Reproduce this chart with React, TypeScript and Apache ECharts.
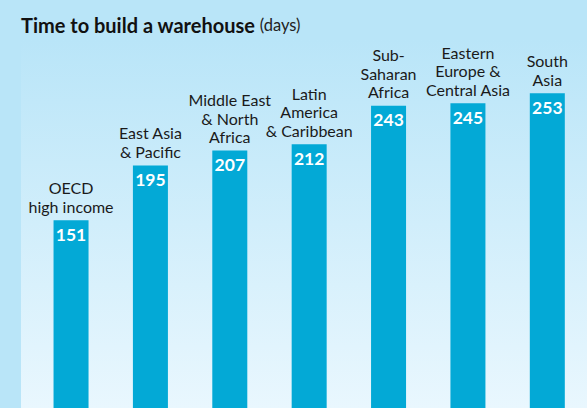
import React, { useEffect, useRef } from "react";
import * as echarts from "echarts";

const categories = [
  "OECD\nhigh income",
  "East Asia\n& Pacific",
  "Middle East\n& North\nAfrica",
  "Latin\nAmerica\n& Caribbean",
  "Sub-\nSaharan\nAfrica",
  "Eastern\nEurope &\nCentral Asia",
  "South\nAsia",
];
const days = [151, 195, 207, 212, 243, 245, 253];
const titleMain = "Time to build a warehouse";
const titleUnit = "(days)";

const FONT = "Lato, 'Open Sans', sans-serif";

export default function App() {
  const ref = useRef<HTMLDivElement>(null);
  useEffect(() => {
    document.body.style.margin = "0";
    const chart = echarts.init(ref.current!, null, { renderer: "svg" });
    chart.setOption({
      animation: false,
      backgroundColor: "#b9e5f8",
      textStyle: { fontFamily: FONT },
      graphic: [
        {
          type: "rect",
          z: -10,
          silent: true,
          shape: { x: 21, y: 40, width: 566, height: 368 },
          style: {
            fill: new echarts.graphic.LinearGradient(0, 0, 0, 1, [
              { offset: 0, color: "#b9e5f8" },
              { offset: 1, color: "#e9f7fe" },
            ]),
          },
        },
      ],
      title: {
        left: 16,
        top: 10,
        text: `{b|${titleMain}} {n|${titleUnit}}`,
        textStyle: {
          rich: {
            b: { fontFamily: FONT, fontWeight: "bold", fontSize: 20, color: "#111111" },
            n: { fontFamily: FONT, fontWeight: "normal", fontSize: 16.5, color: "#222222" },
          },
        },
      },
      grid: { left: 31.35, top: 34.8, width: 562.2, height: 383.4 },
      xAxis: {
        type: "category",
        data: categories,
        show: false,
      },
      yAxis: { type: "value", min: 0, max: 300, show: false },
      series: [
        {
          type: "bar",
          data: days,
          barWidth: 35,
          itemStyle: { color: "#03a9d6" },
          label: {
            show: true,
            position: "insideTop",
            distance: 5,
            color: "#ffffff",
            fontFamily: FONT,
            fontWeight: "bold",
            fontSize: 17.5,
            lineHeight: 18,
          },
        },
        {
          type: "bar",
          data: days,
          barWidth: 35,
          barGap: "-100%",
          itemStyle: { color: "rgba(0,0,0,0)" },
          label: {
            show: true,
            position: "top",
            distance: 5,
            formatter: (p: any) => categories[p.dataIndex],
            color: "#1a1a1a",
            fontFamily: FONT,
            fontSize: 16,
            lineHeight: 18.3,
            align: "center",
          },
        },
      ],
    });
    return () => chart.dispose();
  }, []);
  return <div ref={ref} style={{ width: 587, height: 408 }} />;
}
